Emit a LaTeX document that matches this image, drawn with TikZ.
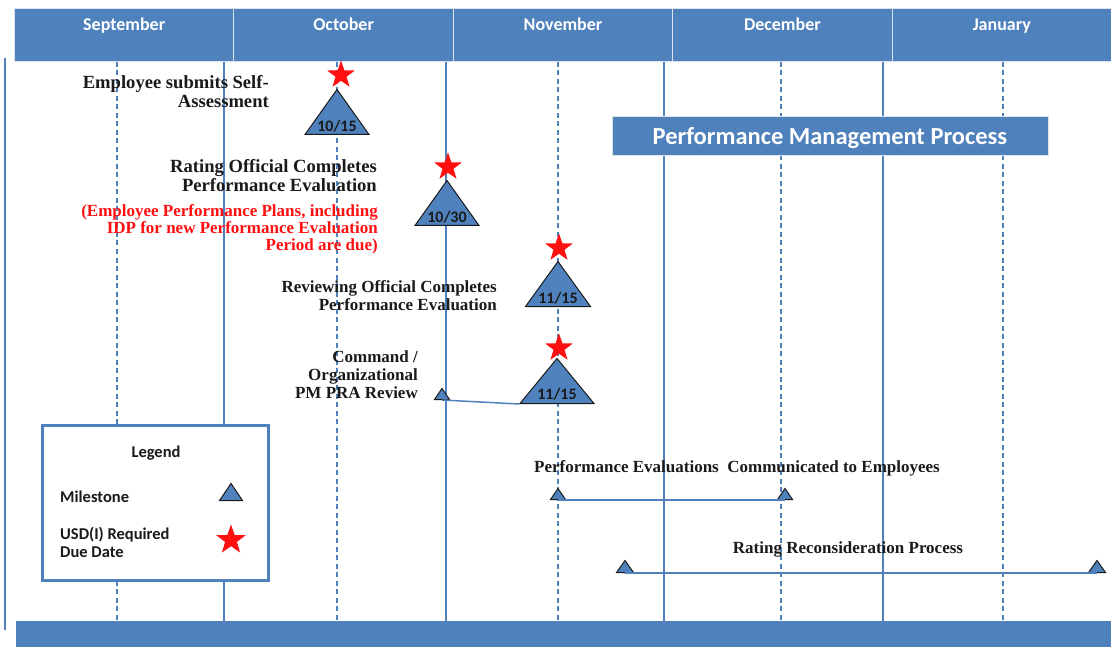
\documentclass[tikz,border=0pt]{standalone}
\usepackage{fontspec}
\setmainfont{Liberation Serif}
\setsansfont{Carlito}
\usepackage{tikz}
\usetikzlibrary{calc,shapes.geometric}
\definecolor{pmblue}{HTML}{4F81BD}
\definecolor{pmrule}{HTML}{DCE3EE}
\definecolor{pmred}{HTML}{FF1010}
\definecolor{pmink}{HTML}{1A1A1A}
\tikzset{
	month/.style={rectangle,draw=pmrule,line width=1pt,fill=pmblue,anchor=north west,minimum width=219.4,minimum height=53,text height=20pt,text depth=29pt,inner sep=2pt,text=white,font=\sffamily\bfseries\fontsize{18}{20}\selectfont},
	gridsolid/.style={draw=pmblue,line width=1.2pt},
	griddashed/.style={draw=pmblue,line width=1.2pt,dash pattern=on 5pt off 3.5pt},
	milestone/.style 2 args={isosceles triangle,isosceles triangle apex angle=70,isosceles triangle stretches,shape border rotate=90,draw=pmink,fill=pmblue,line width=1pt,inner sep=0pt,anchor=south,minimum width=#1,minimum height=#2,font=\sffamily\bfseries\fontsize{16}{16}\selectfont,text=pmink},
	duedate/.style={star,star points=5,star point ratio=2.5,fill=pmred,draw=none,inner sep=0pt,minimum size=#1},
	note/.style={align=right,anchor=east,inner sep=0pt,text=pmink,font=\bfseries\fontsize{17}{18}\selectfont},
	bignote/.style={note,font=\bfseries\fontsize{18.6}{19}\selectfont},
	rednote/.style={note,text=pmred,font=\bfseries\fontsize{17}{17}\selectfont},
	span/.style={draw=pmblue,line width=1.5pt},
	legendtext/.style={align=left,anchor=west,inner sep=0pt,text=pmink,font=\sffamily\bfseries\fontsize{16.5}{18}\selectfont}
}
\begin{document}
\begin{tikzpicture}[x=1pt,y=-1pt]
	\useasboundingbox (0,0) rectangle (1111,647);
	% months
	\foreach \m [count=\i from 0] in {September,October,November,December,January}
		\node[month] (m\i) at (14+219.4*\i,8) {\m};
	% grid
	\draw[gridsolid] (5,58) -- (5,630);
	\foreach \x in {224,446,664,883}
		\draw[gridsolid] (\x,62) -- (\x,621);
	\foreach \x in {117,337,558,781,1003}
		\draw[griddashed] (\x,62) -- (\x,621);
	\fill[pmblue] (16,621) rectangle (1111,647);
	
	\node[rectangle,fill=pmblue,draw=pmrule,line width=0.8pt,minimum width=436,minimum height=39,text height=20pt,text depth=2pt,text=white,font=\sffamily\bfseries\fontsize{24.5}{26}\selectfont] (title) at (830,136) {Performance Management Process};
	
	% legend
	\node[rectangle,draw=pmblue,line width=2.5pt,fill=white,minimum width=226,minimum height=155,anchor=north west] (legend) at (41,424) {};
	\node[legendtext,anchor=center] (lgtitle) at (156,453) {Legend};
	\node[legendtext] (lgms) at (60,497) {Milestone};
	\node[milestone={23}{17}] (lgtri) at (231,501) {};
	\node[legendtext] (lgdue) at (60,542) {USD(I) Required\\Due Date};
	\node[duedate=31] (lgstar) at (231,540) {};
	
	% milestones
	\node[milestone={64}{45}] (ms1) at (337,135) {10/15};
	\node[milestone={64}{45}] (ms2) at (447,226) {10/30};
	\node[milestone={65}{45}] (ms3) at (558,307) {11/15};
	\node[milestone={74}{45}] (ms4) at (557,404) {11/15};
	\node[milestone={15}{11}] (cmd) at (442,400) {};
	\node[milestone={15}{11}] (pe1) at (558,500) {};
	\node[milestone={15}{11}] (pe2) at (785,500) {};
	\node[milestone={17}{12}] (rr1) at (625,573) {};
	\node[milestone={17}{12}] (rr2) at (1097,573) {};
	
	\draw[span] (cmd.south) -- (ms4.left corner);
	\draw[span] (pe1.south) -- (pe2.south);
	\draw[span] (rr1.south) -- (rr2.south);
	
	% due dates
	\node[duedate=29] (d1) at (341,75) {};
	\node[duedate=29] (d2) at (448,167) {};
	\node[duedate=29] (d3) at (559,248) {};
	\node[duedate=29] (d4) at (559,348) {};
	
	% labels
	\node[bignote] (n1) at (269,92) {Employee submits Self-\\Assessment};
	\node[bignote] (n2) at (377,176) {Rating Official Completes\\Performance Evaluation};
	\node[rednote] (n2b) at (378,229) {(Employee Performance Plans, including\\IDP for new Performance Evaluation\\Period are due)};
	\node[note] (n3) at (497,296) {Reviewing Official Completes\\Performance Evaluation};
	\node[note] (n4) at (418,375) {Command /\\Organizational\\PM PRA Review};
	\node[note,anchor=center] (n5) at (737,468) {Performance Evaluations\ \ Communicated to Employees};
	\node[note,anchor=center] (n6) at (848,549) {Rating Reconsideration Process};
\end{tikzpicture}
\end{document}
